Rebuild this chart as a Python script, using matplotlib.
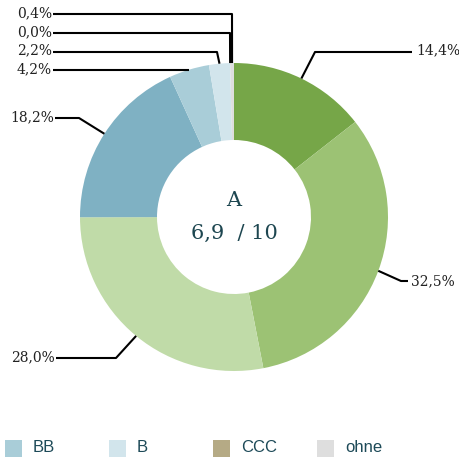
import numpy as np
import matplotlib.pyplot as plt
from matplotlib.patches import Rectangle

labels = ["AAA", "AA", "A", "BBB", "BB", "B", "CCC", "ohne"]
shares = [14.4, 32.5, 28.0, 18.2, 4.2, 2.2, 0.0, 0.4]
colors = ["#76a648", "#9cc274", "#c0dba8", "#7fb1c3",
          "#a9cdd8", "#d2e5ec", "#b5aa85", "#dedede"]
rating = "A"
score = "6,9  / 10"

W, H = 460, 462
CX, CY, R = 234, 217, 154

fig = plt.figure(figsize=(4.6, 4.62), dpi=100)
ax = fig.add_axes([0, 0, 1, 1])


def py(y):
    # pixel row -> data y
    return H - y


wedges, _ = ax.pie(shares, colors=colors, startangle=90, counterclock=False,
                   radius=R, center=(CX, py(CY)), frame=True,
                   wedgeprops=dict(width=R * 0.5, linewidth=0))
ax.set_xlim(0, W)
ax.set_ylim(0, H)
ax.set_aspect("equal")
ax.axis("off")

# label text position (pixels) and leader-line elbow points
layout = [
    dict(tx=416, ty=50, ha="left", path=[(412, 52), (315, 52)]),
    dict(tx=411, ty=281, ha="left", path=[(408, 281), (401, 281)]),
    dict(tx=55, ty=357, ha="right", path=[(56, 358), (116, 358)]),
    dict(tx=54, ty=117, ha="right", path=[(55, 118), (79, 118)]),
    dict(tx=52, ty=69, ha="right", path=[(53, 70)]),
    dict(tx=52, ty=50, ha="right", path=[(53, 52), (217, 52)]),
    dict(tx=52, ty=32, ha="right", path=[(53, 33), (230, 33)]),
    dict(tx=52, ty=13, ha="right", path=[(53, 14), (232, 14)]),
]

for w, v, lay in zip(wedges, shares, layout):
    mid = np.deg2rad((w.theta1 + w.theta2) / 2)
    ax_, ay_ = CX + R * np.cos(mid), py(CY) + R * np.sin(mid)
    pts = [(x, py(y)) for x, y in lay["path"]]
    if len(pts) == 1:
        ay_ = pts[0][1]
    xs = [p[0] for p in pts] + [ax_]
    ys = [p[1] for p in pts] + [ay_]
    ax.plot(xs, ys, color="black", lw=1.5, solid_capstyle="butt")
    ax.text(lay["tx"], py(lay["ty"]), f"{v:.1f}%".replace(".", ","),
            ha=lay["ha"], va="center", fontsize=10, family="DejaVu Serif",
            color="#222222")

ax.text(CX, py(201), rating, ha="center", va="center", fontsize=15,
        family="DejaVu Serif", color="#1d4650")
ax.text(CX, py(233), score, ha="center", va="center", fontsize=15,
        family="DejaVu Serif", color="#1d4650")

# legend (only the last row is visible)
for i, (lab, col) in enumerate(zip(labels[4:], colors[4:])):
    x0 = 5 + i * 104
    ax.add_patch(Rectangle((x0, py(457)), 17, 17, facecolor=col, lw=0))
    ax.text(x0 + 28, py(448), lab, ha="left", va="center", fontsize=12,
            family="Liberation Sans", color="#1d4a58")

fig.savefig("out.png", dpi=100)
